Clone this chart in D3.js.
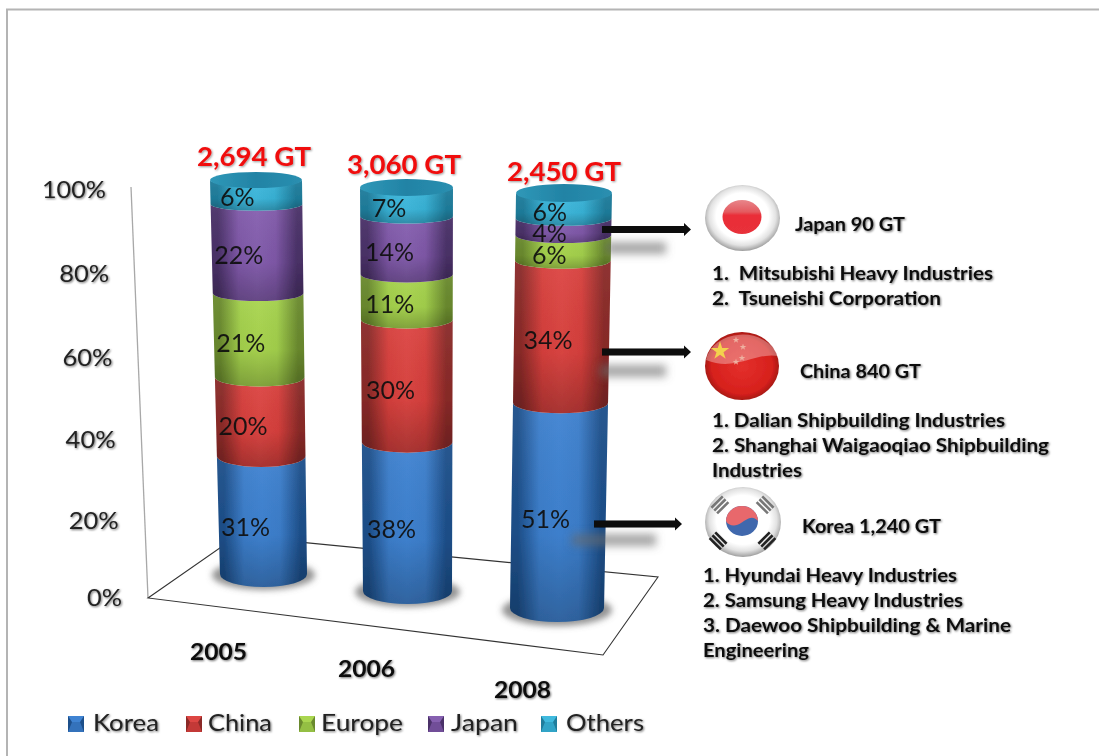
<!DOCTYPE html>
<html><head><meta charset="utf-8">
<script src="https://cdn.jsdelivr.net/npm/d3@7/dist/d3.min.js"></script>
<style>
html,body{margin:0;padding:0;background:#fff;overflow:hidden}
svg{display:block}
text{font-family:Lato,"Open Sans",sans-serif}
</style></head><body><svg id="c" width="1099" height="756"></svg>
<script>
const categories=["2005","2006","2008"];
const seriesNames=["Korea","China","Europe","Japan","Others"];
const korea=[31,38,51];
const china=[20,30,34];
const europe=[21,11,6];
const japan=[22,14,4];
const others=[6,7,6];
const totals=["2,694 GT","3,060 GT","2,450 GT"];
const tickValues=[0,20,40,60,80,100];
const notes=[
 {title:"Japan 90 GT",lines:["1.  Mitsubishi Heavy Industries","2.  Tsuneishi Corporation"]},
 {title:"China 840 GT",lines:["1. Dalian Shipbuilding Industries","2. Shanghai Waigaoqiao Shipbuilding","Industries"]},
 {title:"Korea 1,240 GT",lines:["1. Hyundai Heavy Industries","2. Samsung Heavy Industries","3. Daewoo Shipbuilding & Marine","Engineering"]}
];
const values=[korea,china,europe,japan,others];

// layout (separate from the data)
const bars=[
 {top:{l:210,r:302,y:186,ry:6},bot:{l:220,r:307,y:587,ry:13},lab:27,tx:254,ty:166,yrX:218.5,yrY:660},
 {top:{l:360,r:453,y:194,ry:6.5},bot:{l:363,r:452,y:604,ry:13},lab:29,tx:404,ty:174,yrX:366.5,yrY:677},
 {top:{l:516,r:612,y:200,ry:7},bot:{l:510,r:604,y:622,ry:14},lab:34,tx:564,ty:181,yrX:522.5,yrY:698}
];
const palette=[
 {e:"#1d4f8a",m:"#3c7ecb",hi:"#3f83d2"},
 {e:"#8a2a28",m:"#d63f3c",hi:"#dd4643"},
 {e:"#6a8a2e",m:"#a3d04c",hi:"#aad650"},
 {e:"#4a3168",m:"#7f58a8",hi:"#8660b0"},
 {e:"#1f7d9c",m:"#38b2d6",hi:"#40bade"}
];
const svg=d3.select("#c");
const defs=svg.append("defs");
function blurF(id,s){defs.append("filter").attr("id",id).attr("x","-30%").attr("y","-80%").attr("width","160%").attr("height","260%")
  .append("feGaussianBlur").attr("stdDeviation",s);}
blurF("b2",3);blurF("b4",4.5);blurF("soft",0.55);
function shadowF(id,dx,dy,s,o,b){const f=defs.append("filter").attr("id",id).attr("x","-10%").attr("y","-30%").attr("width","120%").attr("height","170%");
  f.append("feGaussianBlur").attr("in","SourceAlpha").attr("stdDeviation",s).attr("result","bl");
  f.append("feOffset").attr("in","bl").attr("dx",dx).attr("dy",dy).attr("result","of");
  f.append("feFlood").attr("flood-color","#000").attr("flood-opacity",o).attr("result","fl");
  f.append("feComposite").attr("in","fl").attr("in2","of").attr("operator","in").attr("result","sh");
  f.append("feGaussianBlur").attr("in","SourceGraphic").attr("stdDeviation",b).attr("result","sg");
  const m=f.append("feMerge");m.append("feMergeNode").attr("in","sh");m.append("feMergeNode").attr("in","sg");}
shadowF("ts",1.2,1.2,1.1,.55,.5);
shadowF("tr",1.2,1.2,1,.4,.5);
palette.forEach((p,i)=>{
 const g=defs.append("linearGradient").attr("id","side"+i);
 [[0,p.e],[.08,p.e],[.3,p.m],[.5,p.hi],[.7,p.m],[.93,p.e],[1,p.e]].forEach(s=>g.append("stop").attr("offset",s[0]).attr("stop-color",s[1]));
});
const vg=defs.append("linearGradient").attr("id","vshade").attr("x1",0).attr("x2",0).attr("y1",0).attr("y2",1);
vg.append("stop").attr("offset",0).attr("stop-color","#fff").attr("stop-opacity",.05);
vg.append("stop").attr("offset",.6).attr("stop-color","#000").attr("stop-opacity",.03);
vg.append("stop").attr("offset",1).attr("stop-color","#000").attr("stop-opacity",.24);
const capG=defs.append("linearGradient").attr("id","cap");
[[0,"#2f98b8"],[.5,"#2283a5"],[1,"#2a8fb0"]].forEach(s=>capG.append("stop").attr("offset",s[0]).attr("stop-color",s[1]));

// frame
svg.append("path").attr("d","M1099,9.5H7V756").attr("fill","none").attr("stroke","#b4b4b4").attr("stroke-width",2);

// value axis
const axisY=d3.scalePow().exponent(1.036).domain([0,100]).range([598,190]);
const axisX=d3.scaleLinear().domain([0,100]).range([122,106]);
const wallX=d3.scaleLinear().domain([0,100]).range([148,131]);
const wallY=d3.scaleLinear().domain([0,100]).range([598,187]);
svg.append("line").attr("x1",wallX(0)).attr("y1",wallY(0)).attr("x2",wallX(100)).attr("y2",wallY(100)).attr("stroke","#a8a8a8").attr("stroke-width",1.3);
svg.append("g").attr("filter","url(#ts)").selectAll("text").data(tickValues).join("text")
 .attr("x",d=>axisX(d)).attr("y",d=>axisY(d)+8).attr("text-anchor","end").attr("font-size",24).attr("fill","#222")
 .attr("textLength",d=>d===100?64:d===0?35:50).attr("lengthAdjust","spacingAndGlyphs")
 .text(d=>d+"%");

// floor
const floorPts=[[148,598],[237,536],[658,577],[603,655]];
svg.append("path").attr("d",d3.line()(floorPts)+"Z").attr("fill","none").attr("stroke","#333").attr("stroke-width",1.1);

// ground shadows
svg.append("g").attr("filter","url(#b2)").selectAll("ellipse").data(bars).join("ellipse")
 .attr("cx",b=>(b.bot.l+b.bot.r)/2).attr("cy",b=>b.bot.y-12).attr("rx",b=>(b.bot.r-b.bot.l)/2+8).attr("ry",b=>b.bot.ry+2).attr("fill","#666").attr("opacity",.7);

// cylinders
const stack=d3.stack().keys(d3.range(5)).value((d,k)=>d[k])(categories.map((_,i)=>values.map(s=>s[i])));
const barScales=bars.map((b,i)=>{
  const sum=d3.sum(values,s=>s[i]);
  return {
   y:d3.scalePow().exponent(1.03).domain([0,sum]).range([b.bot.y,b.top.y]),
   l:d3.scaleLinear().domain([0,sum]).range([b.bot.l,b.top.l]),
   r:d3.scaleLinear().domain([0,sum]).range([b.bot.r,b.top.r]),
   ry:d3.scaleLinear().domain([0,sum]).range([b.bot.ry,b.top.ry]),
   sum};
});
function segPath(s,v0,v1){
  const l0=s.l(v0),r0=s.r(v0),l1=s.l(v1),r1=s.r(v1);
  const y0=s.y(v0)-s.ry(v0),y1=s.y(v1)-s.ry(v1);
  return `M${l1},${y1}A${(r1-l1)/2},${s.ry(v1)} 0 0 0 ${r1},${y1}L${r0},${y0}A${(r0-l0)/2},${s.ry(v0)} 0 0 1 ${l0},${y0}Z`;
}
const gBars=svg.append("g").attr("filter","url(#soft)");
categories.forEach((c,i)=>{
  const s=barScales[i];
  const g=gBars.append("g");
  stack.forEach((ser,k)=>{
    const [v0,v1]=ser[i];
    const d=segPath(s,v0,v1);
    g.append("path").attr("d",d).attr("fill",`url(#side${k})`);
    g.append("path").attr("d",d).attr("fill","url(#vshade)");
  });
  const t=bars[i].top,ty=t.y-t.ry;
  g.append("ellipse").attr("cx",(t.l+t.r)/2).attr("cy",ty).attr("rx",(t.r-t.l)/2).attr("ry",t.ry+2).attr("fill","url(#cap)");
});

// percentage labels
const gLab=svg.append("g").attr("filter","url(#soft)");
categories.forEach((c,i)=>{
  const s=barScales[i];
  stack.forEach((ser,k)=>{
    const [v0,v1]=ser[i],mid=(v0+v1)/2;
    gLab.append("text").attr("x",s.l(mid)+bars[i].lab).attr("y",s.y(mid)+8).attr("text-anchor","middle")
      .attr("font-size",25).attr("fill","#111").attr("fill-opacity",.92).text(values[k][i]+"%");
  });
});

// totals and years
svg.append("g").attr("filter","url(#tr)").selectAll("text").data(totals).join("text")
 .attr("x",(d,i)=>bars[i].tx).attr("y",(d,i)=>bars[i].ty).attr("text-anchor","middle")
 .attr("font-size",27).attr("font-weight",700).attr("fill","#f01010").attr("textLength",114).attr("lengthAdjust","spacingAndGlyphs").text(d=>d);
svg.append("g").attr("filter","url(#ts)").selectAll("text").data(categories).join("text")
 .attr("x",(d,i)=>bars[i].yrX).attr("y",(d,i)=>bars[i].yrY).attr("text-anchor","middle")
 .attr("font-size",23).attr("font-weight",700).attr("fill","#111").attr("textLength",57).attr("lengthAdjust","spacingAndGlyphs").text(d=>d);

// legend
const legX=[68,186,299,428,541],legTx=[93,208,321,451,566],legW=[66,64,82,67,78];
const gLeg=svg.append("g");
seriesNames.forEach((n,i)=>{
  const p=palette[i],x=legX[i],y=716,w=16;
  gLeg.append("rect").attr("x",x).attr("y",y).attr("width",w).attr("height",w).attr("fill",p.e);
  gLeg.append("path").attr("d",`M${x},${y}H${x+w}L${x+w-4},${y+6}H${x+4}Z`).attr("fill",p.hi);
  gLeg.append("path").attr("d",`M${x+4},${y+6}H${x+w-4}L${x+w},${y+w}H${x}Z`).attr("fill",p.m).attr("opacity",.75);
  gLeg.append("text").attr("x",legTx[i]).attr("y",731).attr("font-size",24).attr("fill","#222").attr("filter","url(#ts)")
    .attr("textLength",legW[i]).attr("lengthAdjust","spacingAndGlyphs").text(n);
});

// arrows
const arrows=[{x0:602,x1:691,y:229.5,sx:606,sw:60,sy:248},{x0:602,x1:691,y:352,sx:600,sw:66,sy:371},{x0:594,x1:682,y:524,sx:572,sw:84,sy:540}];
const gSh=svg.append("g").attr("filter","url(#b4)");
arrows.forEach(a=>gSh.append("rect").attr("x",a.sx).attr("y",a.sy-6).attr("width",a.sw).attr("height",12).attr("fill","#6a6a6a").attr("opacity",.6));
const gAr=svg.append("g").attr("filter","url(#soft)");
arrows.forEach(a=>{
  gAr.append("path").attr("d",`M${a.x0},${a.y-3.5}H${a.x1-7}V${a.y-6.5}L${a.x1},${a.y}L${a.x1-7},${a.y+6.5}V${a.y+3.5}H${a.x0}Z`).attr("fill","#0a0a0a");
});

// flags
const flagRim=defs.append("radialGradient").attr("id","rim").attr("cx",.5).attr("cy",.47).attr("r",.53);
[[0,"#fff"],[.66,"#fff"],[.84,"#e2e2e2"],[.95,"#b4b4b4"],[1,"#9c9c9c"]].forEach(s=>flagRim.append("stop").attr("offset",s[0]).attr("stop-color",s[1]));
const cnG=defs.append("radialGradient").attr("id","cnf").attr("cx",.5).attr("cy",.5).attr("r",.55);
[[0,"#e4302c"],[.75,"#d6201c"],[1,"#8f1512"]].forEach(s=>cnG.append("stop").attr("offset",s[0]).attr("stop-color",s[1]));
const redG=defs.append("linearGradient").attr("id","jpf").attr("x1",0).attr("x2",0).attr("y1",0).attr("y2",1);
[[0,"#e8868a"],[.35,"#e45a60"],[.45,"#ea2e38"],[1,"#e8303a"]].forEach(s=>redG.append("stop").attr("offset",s[0]).attr("stop-color",s[1]));
const flags=svg.append("g").attr("filter","url(#soft)");
// Japan
flags.append("ellipse").attr("cx",742.5).attr("cy",218).attr("rx",37.5).attr("ry",33).attr("fill","url(#rim)");
flags.append("ellipse").attr("cx",742).attr("cy",217).attr("rx",19.5).attr("ry",17).attr("fill","url(#jpf)");
// China
flags.append("ellipse").attr("cx",742).attr("cy",366).attr("rx",37).attr("ry",34).attr("fill","url(#cnf)");
flags.append("path").attr("d","M706,360A37,30 0 0 1 778,356C755,352 735,372 706,360Z").attr("fill","#fff").attr("opacity",.32);
const star=d3.symbol().type(d3.symbolStar);
flags.append("path").attr("d",star.size(105)()).attr("transform","translate(720,351)").attr("fill","#f3d24e");
[[736,340,14],[743,347,14],[742,358,14],[736,362,14]].forEach(p=>flags.append("path").attr("d",star.size(p[2])()).attr("transform",`translate(${p[0]},${p[1]})`).attr("fill","#eeb0a0"));
// Korea
flags.append("ellipse").attr("cx",743).attr("cy",522).attr("rx",38).attr("ry",35).attr("fill","url(#rim)");
flags.append("ellipse").attr("cx",742).attr("cy",521).attr("rx",16).attr("ry",15).attr("fill","#3f68ad");
flags.append("path").attr("d","M726,521A16,15 0 0 1 758,521C752,514 746,520 741,523C736,527 728,526 726,521Z").attr("fill","#e8686c");
[[719,504,-45+90,3],[766,504,45+90,3],[719,540,45+90,3],[766,540,-45+90,3]].forEach(t=>{
  const g=flags.append("g").attr("transform",`translate(${t[0]},${t[1]}) rotate(${t[2]})`);
  d3.range(t[3]).forEach(j=>g.append("rect").attr("x",-4+j*4).attr("y",-8).attr("width",2.6).attr("height",16).attr("fill",t[1]<520?"#777":"#222"));
});

// notes
const noteLay=[
 {tx:795,ty:231,tw:110,x:712,ys:[280,305],ws:[281,229]},
 {tx:800,ty:378,tw:121,x:712,ys:[427,452,477],ws:[293,337,90]},
 {tx:802,ty:533,tw:139,x:703,ys:[582,607,632,657],ws:[254,260,308,106]}
];
const gN=svg.append("g").attr("filter","url(#ts)");
notes.forEach((n,i)=>{
  const L=noteLay[i];
  gN.append("text").attr("x",L.tx).attr("y",L.ty).attr("font-size",18).attr("font-weight",700).attr("fill","#111")
    .attr("textLength",L.tw).attr("lengthAdjust","spacingAndGlyphs").text(n.title);
  n.lines.forEach((t,j)=>gN.append("text").attr("x",L.x).attr("y",L.ys[j]).attr("font-size",19).attr("font-weight",700).attr("fill","#111")
    .attr("xml:space","preserve").style("white-space","pre").attr("textLength",L.ws[j]).attr("lengthAdjust","spacingAndGlyphs").text(t));
});
</script></body></html>
